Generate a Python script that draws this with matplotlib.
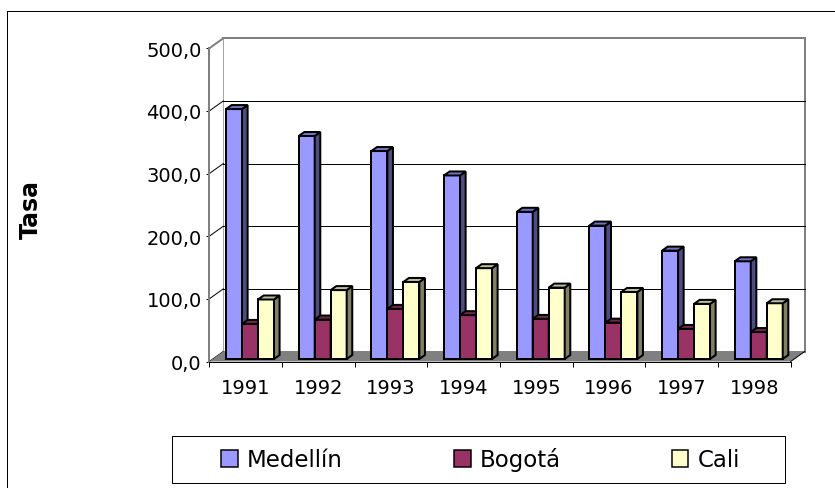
import matplotlib
matplotlib.use("Agg")
import matplotlib.pyplot as plt
import matplotlib.transforms as mtransforms
from matplotlib.patches import Polygon, Rectangle, Patch
from matplotlib.lines import Line2D

# ---- data -------------------------------------------------------------
years = ["1991", "1992", "1993", "1994", "1995", "1996", "1997", "1998"]
medellin = [399, 356, 332, 293, 235, 213, 173, 156]
bogota = [56, 63, 80, 70, 64, 58, 48, 43]
cali = [95, 110, 123, 145, 114, 107, 88, 89]
series_names = ["Medellín", "Bogotá", "Cali"]
series_colors = ["#9999FF", "#993366", "#FFFFCC"]
y_ticks = [0, 100, 200, 300, 400, 500]
y_ticklabels = ["0,0", "100,0", "200,0", "300,0", "400,0", "500,0"]
y_label = "Tasa"

plt.rcParams["font.family"] = ["DejaVu Sans"]

# ---- figure and front plane of the 3-D box ---------------------------
W, H, DPI = 835, 489, 100
fig = plt.figure(figsize=(W / DPI, H / DPI), dpi=DPI)
fig.patch.set_facecolor("white")

left_px, right_px = 209.3, 790.7      # front plane, pixels from left
bottom_px, top_px = 362.5, 49.3       # front plane, pixels from top
ax = fig.add_axes([left_px / W, (H - bottom_px) / H,
                   (right_px - left_px) / W, (bottom_px - top_px) / H])
n = len(years)
ax.set_xlim(0, n)
ax.set_ylim(y_ticks[0], y_ticks[-1])
ax.patch.set_visible(False)

DEPTH = (14.0, 10.0)   # oblique offset of the full box depth (px right, px up)
GRAY = "#808080"
PX = 72.0 / DPI        # one pixel in points


def proj(x, y, z):
    """Data point (x, y) pushed back to depth fraction z, in display pixels."""
    px, py = ax.transData.transform((x, y))
    return (px + z * DEPTH[0], py + z * DEPTH[1])


def shade(color, f):
    r, g, b = matplotlib.colors.to_rgb(color)
    return (r * f, g * f, b * f)


IDENT = mtransforms.IdentityTransform()
ymin, ymax = y_ticks[0], y_ticks[-1]

# back wall
back = Polygon([proj(0, ymin, 1), proj(n, ymin, 1), proj(n, ymax, 1), proj(0, ymax, 1)],
               closed=True, transform=IDENT, facecolor="white", edgecolor=GRAY,
               linewidth=2 * PX, clip_on=False, zorder=0.2)
ax.add_patch(back)
# side wall
side = Polygon([proj(0, ymin, 0), proj(0, ymax, 0), proj(0, ymax, 1), proj(0, ymin, 1)],
               closed=True, transform=IDENT, facecolor="white", edgecolor="none",
               clip_on=False, zorder=0.2)
ax.add_patch(side)

# gridlines on back wall and side wall
for v in y_ticks:
    col = GRAY if v == ymax else "black"
    lw = 2 * PX if v == ymax else 1 * PX
    if ymin < v < ymax:
        p0, p1 = proj(0, v, 1), proj(n, v, 1)
        ax.add_line(Line2D([p0[0], p1[0]], [p0[1], p1[1]], transform=IDENT,
                           color="black", lw=lw, clip_on=False, zorder=0.3))
    q0, q1 = proj(0, v, 0), proj(0, v, 1)
    ax.add_line(Line2D([q0[0], q1[0]], [q0[1], q1[1]], transform=IDENT,
                       color=col, lw=lw, clip_on=False, zorder=0.3))

# floor
floor = Polygon([proj(0, ymin, 0), proj(n, ymin, 0), proj(n, ymin, 1), proj(0, ymin, 1)],
                closed=True, transform=IDENT, facecolor=GRAY, edgecolor="none",
                clip_on=False, zorder=0.4)
ax.add_patch(floor)
f0, f1 = proj(n, ymin, 0), proj(n, ymin, 1)
ax.add_line(Line2D([f0[0], f1[0]], [f0[1], f1[1]], transform=IDENT,
                   color="black", lw=1 * PX, clip_on=False, zorder=0.45))

# ---- 3-D columns -------------------------------------------------------
bar_w = 0.22
first_off = 0.182
z0, z1 = 0.25, 0.65
edge_lw = 2 * PX
front_shift = ax.transData + mtransforms.ScaledTranslation(
    z0 * DEPTH[0] / DPI, z0 * DEPTH[1] / DPI, fig.dpi_scale_trans)

all_series = [medellin, bogota, cali]
for j, (vals, color) in enumerate(zip(all_series, series_colors)):
    xs = [i + first_off + j * bar_w for i in range(n)]
    ax.bar(xs, vals, width=bar_w, align="edge", transform=front_shift,
           facecolor=color, edgecolor="black", linewidth=edge_lw,
           joinstyle="miter", clip_on=False, zorder=1)
    for xl, v in zip(xs, vals):
        xr = xl + bar_w
        side_face = Polygon([proj(xr, 0, z0), proj(xr, v, z0), proj(xr, v, z1), proj(xr, 0, z1)],
                            closed=True, transform=IDENT, facecolor=shade(color, 0.5),
                            edgecolor="black", linewidth=edge_lw, joinstyle="miter",
                            clip_on=False, zorder=1)
        top_face = Polygon([proj(xl, v, z0), proj(xr, v, z0), proj(xr, v, z1), proj(xl, v, z1)],
                           closed=True, transform=IDENT, facecolor=shade(color, 0.75),
                           edgecolor="black", linewidth=edge_lw, joinstyle="miter",
                           clip_on=False, zorder=1)
        ax.add_patch(side_face)
        ax.add_patch(top_face)

# ---- axes, ticks, labels ----------------------------------------------
for s in ("top", "right"):
    ax.spines[s].set_visible(False)
ax.spines["left"].set_color(GRAY)
ax.spines["left"].set_linewidth(2 * PX)
ax.spines["left"].set_zorder(3)
ax.spines["bottom"].set_color("black")
ax.spines["bottom"].set_linewidth(1 * PX)
ax.spines["bottom"].set_zorder(3)

ax.set_yticks(y_ticks)
ax.set_yticklabels(y_ticklabels)
ax.tick_params(axis="y", length=2.6 * PX, width=1 * PX, pad=3.6,
               labelsize=14, colors="black")

ax.set_xticks(range(n + 1))
ax.set_xticklabels([""] * (n + 1))
ax.set_xticks([i + 0.5 for i in range(n)], minor=True)
ax.set_xticklabels(years, minor=True)
ax.tick_params(axis="x", which="major", length=5 * PX, width=1 * PX, direction="out")
ax.tick_params(axis="x", which="minor", length=0, pad=12, labelsize=14)

fig.text(31 / W, (H - 210) / H, y_label, rotation=90, ha="center", va="center",
         fontsize=17, fontweight="bold")

# ---- legend ------------------------------------------------------------
handles = [Patch(facecolor=c, edgecolor="black", linewidth=1.5 * PX) for c in series_colors]
fig.legend(handles, series_names, ncol=3, mode="expand", frameon=False,
           loc="center", bbox_to_anchor=(221 / W, (H - 484) / H, (740 - 221) / W, 47 / H),
           borderpad=0, borderaxespad=0, fontsize=16.5,
           handlelength=0.74, handleheight=0.74, handletextpad=0.4)
fig.add_artist(Rectangle((172 / W, (H - 484) / H), (785 - 172) / W, 47 / H,
                         transform=fig.transFigure, fill=False, edgecolor="black",
                         linewidth=1 * PX))

# ---- chart area border -----------------------------------------------
fig.add_artist(Line2D([7.3 / W, 7.3 / W], [-0.01, (H - 12) / H],
                      transform=fig.transFigure, color="black", lw=1 * PX))
fig.add_artist(Line2D([7.3 / W, 1.01], [(H - 12) / H, (H - 12) / H],
                      transform=fig.transFigure, color="black", lw=1 * PX))

fig.savefig("out.png", dpi=DPI)
